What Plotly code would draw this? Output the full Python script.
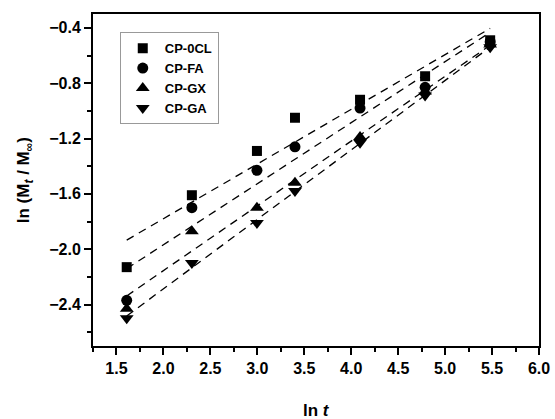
import numpy as np
import plotly.graph_objects as go

# ln t (t = 5, 10, 20, 30, 60, 120, 240 min)
ln_t = [1.609, 2.303, 2.996, 3.401, 4.094, 4.787, 5.480]

# ln (Mt / Minf) por amostra
cp_0cl = [-2.13, -1.61, -1.29, -1.05, -0.92, -0.75, -0.49]
cp_fa = [-2.37, -1.70, -1.43, -1.26, -0.98, -0.83, -0.50]
cp_gx = [-2.43, -1.87, -1.70, -1.52, -1.19, -0.86, -0.52]
cp_ga = [-2.50, -2.10, -1.81, -1.58, -1.23, -0.89, -0.54]

amostras = ['CP-0CL', 'CP-FA', 'CP-GX', 'CP-GA']
series = [cp_0cl, cp_fa, cp_gx, cp_ga]
simbolos = ['square', 'circle', 'triangle-up', 'triangle-down']
tamanhos = [10, 11, 12, 12]

FAMILIA = 'Liberation Sans, Arial'

fig = go.Figure()

# Ajustes lineares (tracejado)
x_fit = np.array([ln_t[0], ln_t[-1]])
for y in series:
    a, b = np.polyfit(ln_t, y, 1)
    fig.add_trace(go.Scatter(
        x=x_fit, y=a * x_fit + b,
        mode='lines',
        line=dict(color='black', width=1.3, dash='8px,6px'),
        showlegend=False, hoverinfo='skip'
    ))

for nome, y, simb, tam in zip(amostras, series, simbolos, tamanhos):
    fig.add_trace(go.Scatter(
        x=ln_t, y=y,
        mode='markers',
        name=nome,
        marker=dict(symbol=simb, size=tam, color='black')
    ))

fig.update_layout(
    width=555, height=419,
    margin=dict(l=93, r=16, t=14, b=73),
    plot_bgcolor='white',
    paper_bgcolor='white',
    font=dict(family=FAMILIA, size=14, color='black', weight='bold'),
    legend=dict(
        x=0.06, y=0.945, xanchor='left', yanchor='top',
        bordercolor='#999999', borderwidth=1,
        bgcolor='white',
        font=dict(family=FAMILIA, size=13, color='black', weight='bold'),
        itemwidth=34,
        tracegroupgap=0
    )
)

fig.update_xaxes(
    range=[1.25, 6.0],
    tick0=1.5, dtick=0.5, tickformat='.1f',
    ticks='outside', ticklen=7, tickwidth=2, tickcolor='black',
    minor=dict(tick0=1.25, dtick=0.25, ticks='outside', ticklen=4,
               tickwidth=2, tickcolor='black'),
    showline=True, linewidth=2, linecolor='black', mirror=True,
    showgrid=False, zeroline=False, automargin=False,
    tickfont=dict(family=FAMILIA, size=16, color='black', weight='bold')
)

fig.update_yaxes(
    range=[-2.7, -0.3],
    tick0=-0.4, dtick=0.4, tickformat='.1f',
    ticks='outside', ticklen=7, tickwidth=2, tickcolor='black',
    minor=dict(tick0=-0.4, dtick=0.2, ticks='outside', ticklen=4,
               tickwidth=2, tickcolor='black'),
    showline=True, linewidth=2, linecolor='black', mirror=True,
    showgrid=False, zeroline=False, automargin=False,
    tickfont=dict(family=FAMILIA, size=16, color='black', weight='bold')
)

# títulos dos eixos como anotações (posição fixa)
titulo_fonte = dict(family=FAMILIA, size=17, color='black', weight='bold')
fig.add_annotation(
    text='ln <i>t</i>', xref='paper', yref='paper',
    x=0.5, y=-0.193, xanchor='center', yanchor='middle',
    showarrow=False, font=titulo_fonte
)
fig.add_annotation(
    text='ln (M<sub><i>t</i></sub> / M<sub>∞</sub>)', xref='paper', yref='paper',
    x=-0.152, y=0.5, xanchor='center', yanchor='middle', textangle=-90,
    showarrow=False, font=titulo_fonte
)

# remove a margem padrão do <body> para a figura começar em (0, 0)
fig.write_html("out.html", config={'displayModeBar': False},
               post_script="document.body.style.margin='0';")
